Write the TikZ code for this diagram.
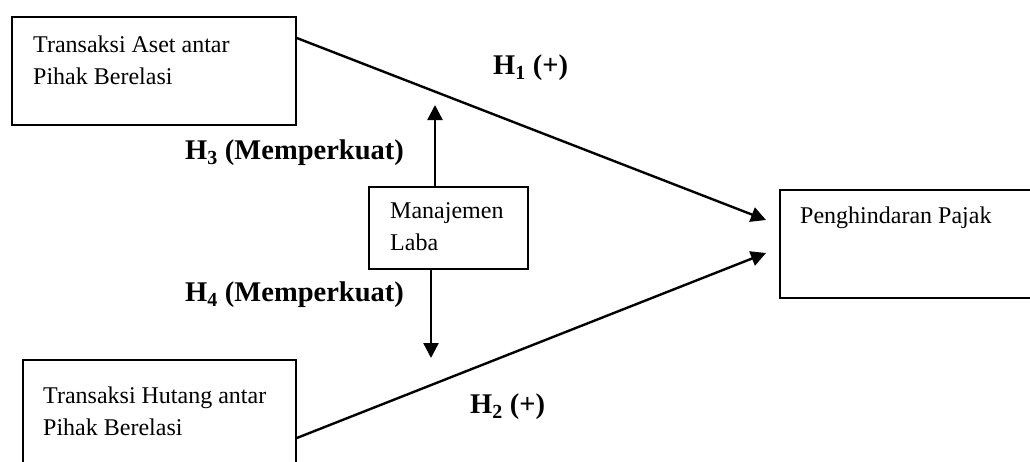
\documentclass[tikz,border=0pt]{standalone}
\usepackage{fontspec}
\setmainfont{Liberation Serif}
\usetikzlibrary{arrows.meta}
\tikzset{
  box/.style={draw, line width=1.8pt, anchor=north west, inner sep=0pt},
  boxtext/.style={anchor=north west, inner sep=0pt, align=left, font=\fontsize{24}{32}\selectfont},
  hyp/.style={anchor=west, inner sep=0pt, font=\fontsize{28.5}{32}\selectfont\bfseries},
  conn/.style={line width=2.4pt, -{Triangle[length=15pt,width=15pt]}},
  plain/.style={line width=2.4pt}
}
\begin{document}
\begin{tikzpicture}[x=1pt,y=-1pt]
\useasboundingbox (0,0) rectangle (1030,461);
% boxes
\node[box, minimum width=284pt, minimum height=108pt] (A) at (11,16) {};
\node[box, minimum width=273pt, minimum height=130pt] (B) at (22,359) {};
\node[box, minimum width=280pt, minimum height=108pt] (C) at (779,189) {};
\node[box, minimum width=159pt, minimum height=82pt] (M) at (368,186) {};
% box texts
\node[boxtext] (At) at (33,35.5) {Transaksi Aset antar\\Pihak Berelasi};
\node[boxtext] (Bt) at (43,386.5) {Transaksi Hutang antar\\Pihak Berelasi};
\node[boxtext] (Mt) at (390,202.5) {Manajemen\\Laba};
\node[boxtext] (Ct) at (800,206.5) {Penghindaran Pajak};
% connectors
\coordinate (up) at (435,105);
\coordinate (down) at (431,358);
\draw[conn] ([yshift=-22pt]A.north east) -- ([xshift=-13pt,yshift=-31pt]C.north west);
\draw[conn] ([yshift=-79pt]B.north east) -- ([xshift=-13pt,yshift=-64pt]C.north west);
\draw[conn] (M.north -| up) -- (up);
\draw[conn] (M.south -| down) -- (down);
% hypothesis labels
\node[hyp] (h1) at (493,68) {H\textsubscript{1} (+)};
\node[hyp] (h3) at (185,153) {H\textsubscript{3} (Memperkuat)};
\node[hyp] (h4) at (185,295) {H\textsubscript{4} (Memperkuat)};
\node[hyp] (h2) at (470,407) {H\textsubscript{2} (+)};
\end{tikzpicture}
\end{document}
